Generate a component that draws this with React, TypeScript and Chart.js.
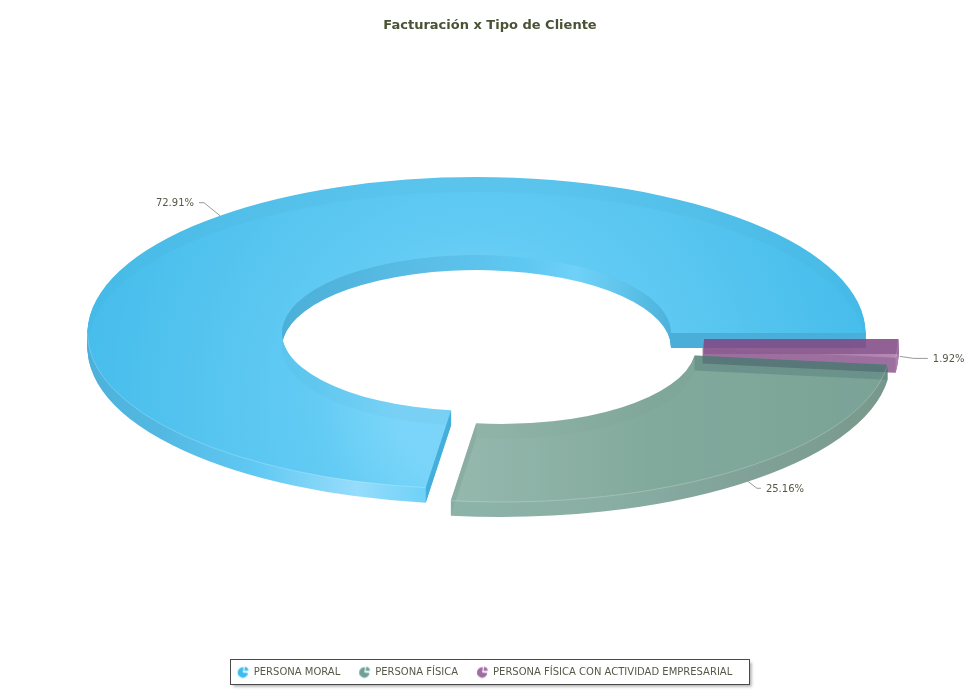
import React, { useEffect, useRef } from "react";
import { Chart, registerables } from "chart.js";

Chart.register(...registerables);

const chartTitle = "Facturación x Tipo de Cliente";
const categories = ["PERSONA MORAL", "PERSONA FÍSICA", "PERSONA FÍSICA CON ACTIVIDAD EMPRESARIAL"];
const shareValues = [72.91, 25.16, 1.92];

const FONT = "'DejaVu Sans', sans-serif";
const W = 980, H = 700;
const CX = 476.5, CY = 333, RX = 389, RY = 156, DEPTH = 15;

type Stops = [number, string][];
const sliceOffsets = [[0, 0], [25, 13], [33, 6]];
const drawOrder = [0, 2, 1];
const layerAlpha = [1, 0.8, 0.88];
// colours of the upper face, as fractions along a screen-space gradient
const blueTop: Stops = [[0.2, "#7bd5fa"], [0.3, "#70d1f7"], [0.4, "#63cbf4"], [0.55, "#5cc8f2"], [0.75, "#52c3ee"], [1, "#46bdec"]];
const greenTop: Stops = [[0, "#7ca79a"], [0.45, "#639584"], [1, "#598c7c"]];
const purpleTop: Stops = [[0, "#9a669a"], [0.7, "#a06f9f"], [1, "#ab7cab"]];
const wallStops: Stops[] = [
  [[0, "#4aaed8"], [30, "#55bbe2"], [60, "#6fd1f8"], [75, "#5fc8f2"], [100, "#5bbfe8"], [140, "#50b3dc"], [180, "#4baed7"], [215, "#52b8e2"], [235, "#5fc8f3"], [252, "#96dcfb"], [262, "#70d2f8"], [360, "#4aaed8"]],
  [[0, "#71a193"], [262, "#71a193"], [285, "#6c9b8e"], [310, "#608a7d"], [340, "#598172"], [353, "#557d6f"], [360, "#557d6f"]],
  [[0, "#955f96"], [353, "#a874a8"], [360, "#955f96"]],
];
const bandShade = ["rgba(40,110,150,0.045)", "rgba(60,90,80,0.05)", "rgba(120,60,120,0.05)"];
const startFace = ["#4aaed8", "rgba(70,110,100,0.16)", "rgba(90,40,100,0.30)"];
const endFace = ["#45aedb", "rgba(50,100,95,0.5)", "rgba(125,70,130,0.88)"];
const edgeGlow = ["rgba(255,255,255,0.22)", "rgba(255,255,255,0.22)", "rgba(255,255,255,0.2)"];
const labelElbows = [[[-16, -13], [-21, -13]], [[17, 13], [21, 13]], [[14, 2], [28, 2]]];
const labelAnchorShift = [[0, 0], [0, 6], [2, 8]];

const LEGEND_ICONS = ["#3dbcf0", "#6fa096", "#a06ca3"];

function makeIcon(color: string) {
  const c = document.createElement("canvas");
  c.width = 13; c.height = 13;
  const x = c.getContext("2d")!;
  x.fillStyle = color;
  x.beginPath(); x.moveTo(6.1, 7); x.arc(6.1, 7, 5.2, 0.1, Math.PI * 1.55); x.closePath(); x.fill();
  x.beginPath(); x.moveTo(7.4, 5.6); x.arc(7.4, 5.6, 4.4, -Math.PI * 0.45, -0.08); x.closePath(); x.fill();
  return c;
}

function conic(ctx: CanvasRenderingContext2D, arc: any, stops: Stops) {
  const g = (ctx as any).createConicGradient(0, arc.x, arc.y);
  stops.forEach(([deg, col]) => g.addColorStop(deg / 360, col));
  return g;
}

function topPaint(ctx: CanvasRenderingContext2D, i: number) {
  let g: CanvasGradient, stops: Stops;
  if (i === 0) { g = ctx.createRadialGradient(CX, 400, 0, CX, 400, 400); stops = blueTop; }
  else if (i === 1) { g = ctx.createLinearGradient(452, 0, 888, 0); stops = greenTop; }
  else { g = ctx.createLinearGradient(703, 0, 899, 0); stops = purpleTop; }
  stops.forEach(([p, col]) => g.addColorStop(p, col));
  return g;
}

function styled(arc: any, color: any) {
  const c = Object.create(arc);
  c.options = {
    backgroundColor: color, borderColor: "transparent", borderWidth: 0, borderAlign: "center",
    offset: 0, spacing: 0, circular: true, borderRadius: 0, borderJoinStyle: "round",
    selfJoin: false, borderDash: [], borderDashOffset: 0,
  };
  return c;
}

function paintArc(ctx: CanvasRenderingContext2D, arc: any, color: any, dx: number, dy: number) {
  const k = RX / arc.outerRadius, ky = RY / arc.outerRadius;
  ctx.save();
  ctx.translate(CX + dx, CY + dy);
  ctx.scale(k, -ky);
  ctx.translate(-arc.x, -arc.y);
  styled(arc, color).draw(ctx);
  ctx.restore();
}

function pt(arc: any, angle: number, radius: number, dx: number, dy: number) {
  const q = radius / arc.outerRadius;
  return [CX + dx + q * RX * Math.cos(angle), CY + dy - q * RY * Math.sin(angle)];
}

function face(ctx: CanvasRenderingContext2D, arc: any, angle: number, dx: number, dy: number, color: string) {
  const a = pt(arc, angle, arc.innerRadius, dx, dy), b = pt(arc, angle, arc.outerRadius, dx, dy);
  ctx.fillStyle = color;
  ctx.beginPath();
  ctx.moveTo(a[0], a[1]); ctx.lineTo(b[0], b[1]); ctx.lineTo(b[0], b[1] + DEPTH); ctx.lineTo(a[0], a[1] + DEPTH);
  ctx.closePath(); ctx.fill();
}

function newLayer() {
  const c = document.createElement("canvas");
  c.width = W; c.height = H;
  return c;
}

const donut3d = {
  id: "donut3d",
  afterLayout(chart: any) {
    if (chart.legend) { chart.legend.left -= 5; chart.legend.right -= 5; }
  },
  beforeDraw(chart: any) {
    const ctx = chart.ctx;
    ctx.save();
    ctx.shadowColor = "rgba(0,0,0,0.35)"; ctx.shadowBlur = 3; ctx.shadowOffsetX = 2; ctx.shadowOffsetY = 2;
    ctx.fillStyle = "#fff";
    ctx.fillRect(230.5, 659.5, 519, 25);
    ctx.shadowColor = "transparent";
    ctx.strokeStyle = "#4a4a4a"; ctx.lineWidth = 1;
    ctx.strokeRect(230.5, 659.5, 519, 25);
    ctx.restore();
  },
  beforeDatasetsDraw(chart: any) {
    const main = chart.ctx as CanvasRenderingContext2D;
    const arcs = chart.getDatasetMeta(0).data;
    drawOrder.forEach((i) => {
      const arc = arcs[i];
      const [dx, dy] = sliceOffsets[i];
      const layer = newLayer();
      const lc = layer.getContext("2d")!;
      const wall = conic(lc, arc, wallStops[i]);
      for (let k = DEPTH; k >= 1; k--) paintArc(lc, arc, wall, dx, dy + k);
      // upper face: the band left uncovered by the same face moved down shows the hidden wall
      const topC = newLayer();
      const tc = topC.getContext("2d")!;
      paintArc(tc, arc, "#000", dx, dy);
      tc.globalCompositeOperation = "source-in";
      tc.fillStyle = topPaint(tc, i);
      tc.fillRect(0, 0, W, H);
      tc.globalCompositeOperation = "source-atop";
      tc.fillStyle = bandShade[i];
      tc.fillRect(0, 0, W, H);
      const inner = newLayer();
      const ic = inner.getContext("2d")!;
      paintArc(ic, arc, "#000", dx, dy + DEPTH);
      ic.globalCompositeOperation = "source-in";
      ic.fillStyle = topPaint(ic, i);
      ic.fillRect(0, 0, W, H);
      tc.drawImage(inner, 0, 0);
      lc.drawImage(topC, 0, 0);
      face(lc, arc, arc.startAngle, dx, dy, startFace[i]);
      face(lc, arc, arc.endAngle, dx, dy, endFace[i]);
      // thin highlight on the front outer edge
      const from = Math.max(arc.startAngle, Math.PI), to = arc.endAngle;
      if (to > from) {
        lc.strokeStyle = edgeGlow[i]; lc.lineWidth = 1;
        lc.beginPath();
        lc.ellipse(CX + dx, CY + dy, RX, RY, 0, -from, -to, true);
        lc.stroke();
      }
      main.save();
      main.globalAlpha = layerAlpha[i];
      main.drawImage(layer, 0, 0);
      main.restore();
    });
    // leader lines and value labels
    main.save();
    main.font = `10px ${FONT}`;
    main.textBaseline = "middle";
    arcs.forEach((arc: any, i: number) => {
      const mid = (arc.startAngle + arc.endAngle) / 2;
      const [dx, dy] = sliceOffsets[i];
      const p = pt(arc, mid, arc.outerRadius, dx + labelAnchorShift[i][0], dy + labelAnchorShift[i][1]);
      const [e1, e2] = labelElbows[i];
      main.strokeStyle = "#999999"; main.lineWidth = 1;
      main.beginPath();
      main.moveTo(p[0], p[1]);
      main.lineTo(p[0] + e1[0], p[1] + e1[1]);
      main.lineTo(p[0] + e2[0], p[1] + e2[1]);
      main.stroke();
      const right = e2[0] < 0;
      main.textAlign = right ? "right" : "left";
      main.fillStyle = "#555a48";
      main.fillText(shareValues[i].toFixed(2) + "%", p[0] + e2[0] + (right ? -5 : 5), p[1] + e2[1] + 1);
    });
    main.restore();
    return false;
  },
};

export default function App() {
  const ref = useRef<HTMLCanvasElement | null>(null);
  useEffect(() => {
    const chart = new Chart(ref.current!, {
      type: "doughnut",
      data: { labels: categories, datasets: [{ data: shareValues, backgroundColor: LEGEND_ICONS, borderWidth: 0 }] },
      options: {
        responsive: false,
        devicePixelRatio: 1,
        animation: false,
        rotation: 90,
        cutout: "50%",
        layout: { padding: { bottom: 13 } },
        plugins: {
          title: {
            display: true, text: chartTitle, color: "#4a5235",
            font: { family: FONT, size: 13, weight: "bold" }, padding: { top: 18, bottom: 10 },
          },
          tooltip: { enabled: false },
          legend: {
            position: "bottom",
            labels: {
              color: "#555a48", font: { family: FONT, size: 10 }, usePointStyle: true, pointStyleWidth: 11,
              padding: 19,
              generateLabels: () => categories.map((text, index) => ({
                text, index, hidden: false, fillStyle: LEGEND_ICONS[index], strokeStyle: "transparent",
                fontColor: "#555a48", lineWidth: 0, pointStyle: makeIcon(LEGEND_ICONS[index]),
              })),
            },
          },
        },
      },
      plugins: [donut3d],
    } as any);
    return () => chart.destroy();
  }, []);
  return (
    <div style={{ position: "absolute", left: 0, top: 0, width: W, height: H, background: "#fff" }}>
      <canvas ref={ref} width={W} height={H} style={{ display: "block" }} />
    </div>
  );
}
